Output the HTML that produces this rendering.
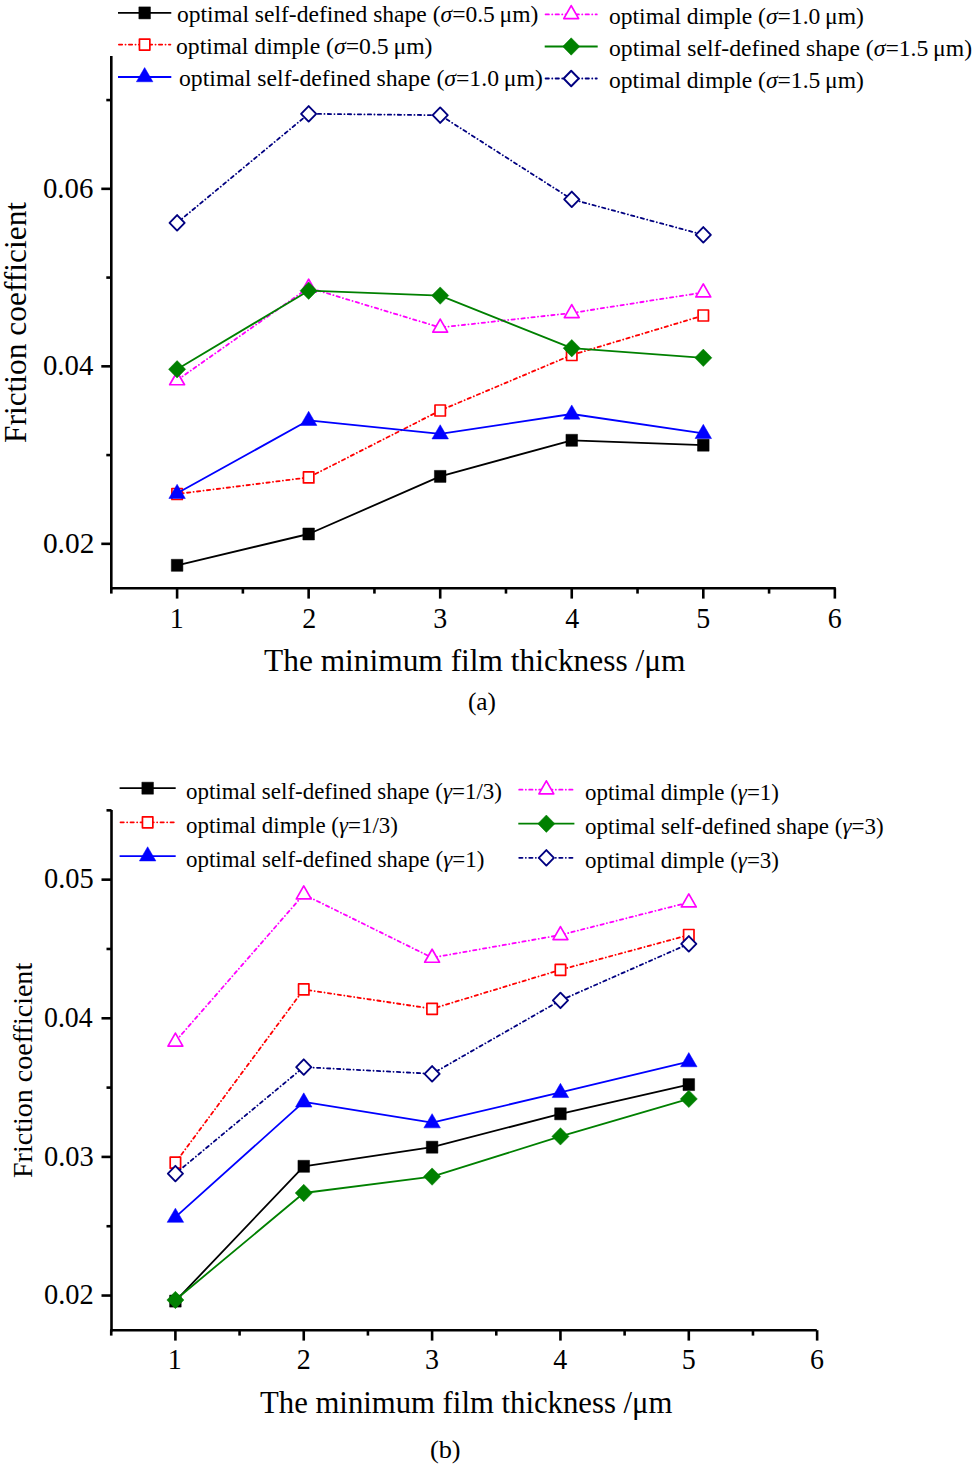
<!DOCTYPE html>
<html><head><meta charset="utf-8"><title>Friction coefficient charts</title>
<style>
html,body{margin:0;padding:0;background:#fff;}
body{width:973px;height:1466px;overflow:hidden;}
svg{display:block;font-family:"Liberation Serif", serif;}
text{fill:#000;}
</style></head><body>
<svg width="973" height="1466" viewBox="0 0 973 1466">
<line x1="111.3" y1="56.0" x2="111.3" y2="589.5" stroke="#000" stroke-width="2.6"/>
<line x1="110.0" y1="588.2" x2="835.8" y2="588.2" stroke="#000" stroke-width="2.6"/>
<line x1="101.3" y1="543.83" x2="111.3" y2="543.83" stroke="#000" stroke-width="2.6"/>
<line x1="101.3" y1="366.33" x2="111.3" y2="366.33" stroke="#000" stroke-width="2.6"/>
<line x1="101.3" y1="188.83" x2="111.3" y2="188.83" stroke="#000" stroke-width="2.6"/>
<line x1="106.3" y1="455.08" x2="111.3" y2="455.08" stroke="#000" stroke-width="2.6"/>
<line x1="106.3" y1="277.57" x2="111.3" y2="277.57" stroke="#000" stroke-width="2.6"/>
<line x1="106.3" y1="100.07" x2="111.3" y2="100.07" stroke="#000" stroke-width="2.6"/>
<line x1="111.32" y1="588.2" x2="111.32" y2="593.6" stroke="#000" stroke-width="2.6"/>
<line x1="177.10" y1="588.2" x2="177.10" y2="598.6" stroke="#000" stroke-width="2.6"/>
<line x1="242.88" y1="588.2" x2="242.88" y2="593.6" stroke="#000" stroke-width="2.6"/>
<line x1="308.65" y1="588.2" x2="308.65" y2="598.6" stroke="#000" stroke-width="2.6"/>
<line x1="374.43" y1="588.2" x2="374.43" y2="593.6" stroke="#000" stroke-width="2.6"/>
<line x1="440.20" y1="588.2" x2="440.20" y2="598.6" stroke="#000" stroke-width="2.6"/>
<line x1="505.98" y1="588.2" x2="505.98" y2="593.6" stroke="#000" stroke-width="2.6"/>
<line x1="571.75" y1="588.2" x2="571.75" y2="598.6" stroke="#000" stroke-width="2.6"/>
<line x1="637.53" y1="588.2" x2="637.53" y2="593.6" stroke="#000" stroke-width="2.6"/>
<line x1="703.30" y1="588.2" x2="703.30" y2="598.6" stroke="#000" stroke-width="2.6"/>
<line x1="769.08" y1="588.2" x2="769.08" y2="593.6" stroke="#000" stroke-width="2.6"/>
<line x1="834.85" y1="588.2" x2="834.85" y2="598.6" stroke="#000" stroke-width="2.6"/>
<polyline points="177.10,565.30 308.65,534.00 440.20,476.40 571.75,440.30 703.30,445.20" fill="none" stroke="#000000" stroke-width="1.8" stroke-linejoin="round"/>
<rect x="171.30" y="559.30" width="11.60" height="12.00" fill="#000000" stroke="#000000" stroke-width="0.5" stroke-linejoin="round"/><rect x="302.85" y="528.00" width="11.60" height="12.00" fill="#000000" stroke="#000000" stroke-width="0.5" stroke-linejoin="round"/><rect x="434.40" y="470.40" width="11.60" height="12.00" fill="#000000" stroke="#000000" stroke-width="0.5" stroke-linejoin="round"/><rect x="565.95" y="434.30" width="11.60" height="12.00" fill="#000000" stroke="#000000" stroke-width="0.5" stroke-linejoin="round"/><rect x="697.50" y="439.20" width="11.60" height="12.00" fill="#000000" stroke="#000000" stroke-width="0.5" stroke-linejoin="round"/>
<polyline points="177.10,494.00 308.65,477.40 440.20,410.50 571.75,355.00 703.30,315.50" fill="none" stroke="#ff0000" stroke-width="1.8" stroke-dasharray="3.3 3.3 0.1 3.3" stroke-linecap="round" stroke-linejoin="round"/>
<rect x="171.90" y="488.50" width="10.40" height="11.00" fill="#fff" stroke="#ff0000" stroke-width="1.7" stroke-linejoin="round"/><rect x="303.45" y="471.90" width="10.40" height="11.00" fill="#fff" stroke="#ff0000" stroke-width="1.7" stroke-linejoin="round"/><rect x="435.00" y="405.00" width="10.40" height="11.00" fill="#fff" stroke="#ff0000" stroke-width="1.7" stroke-linejoin="round"/><rect x="566.55" y="349.50" width="10.40" height="11.00" fill="#fff" stroke="#ff0000" stroke-width="1.7" stroke-linejoin="round"/><rect x="698.10" y="310.00" width="10.40" height="11.00" fill="#fff" stroke="#ff0000" stroke-width="1.7" stroke-linejoin="round"/>
<polyline points="177.10,493.30 308.65,420.30 440.20,433.80 571.75,414.00 703.30,433.40" fill="none" stroke="#0000ff" stroke-width="1.8" stroke-linejoin="round"/>
<path d="M177.10,484.25 L185.35,498.45 L168.85,498.45 Z" fill="#0000ff" stroke="#0000ff" stroke-width="0.5" stroke-linejoin="round"/><path d="M308.65,411.25 L316.90,425.45 L300.40,425.45 Z" fill="#0000ff" stroke="#0000ff" stroke-width="0.5" stroke-linejoin="round"/><path d="M440.20,424.75 L448.45,438.95 L431.95,438.95 Z" fill="#0000ff" stroke="#0000ff" stroke-width="0.5" stroke-linejoin="round"/><path d="M571.75,404.95 L580.00,419.15 L563.50,419.15 Z" fill="#0000ff" stroke="#0000ff" stroke-width="0.5" stroke-linejoin="round"/><path d="M703.30,424.35 L711.55,438.55 L695.05,438.55 Z" fill="#0000ff" stroke="#0000ff" stroke-width="0.5" stroke-linejoin="round"/>
<polyline points="177.10,380.20 308.65,287.70 440.20,327.50 571.75,313.00 703.30,292.40" fill="none" stroke="#ff00ff" stroke-width="1.8" stroke-dasharray="3.3 3.3 0.1 3.3" stroke-linecap="round" stroke-linejoin="round"/>
<path d="M177.10,371.75 L184.53,384.75 L169.67,384.75 Z" fill="#fff" stroke="#ff00ff" stroke-width="1.7" stroke-linejoin="round"/><path d="M308.65,279.25 L316.08,292.25 L301.22,292.25 Z" fill="#fff" stroke="#ff00ff" stroke-width="1.7" stroke-linejoin="round"/><path d="M440.20,319.05 L447.63,332.05 L432.77,332.05 Z" fill="#fff" stroke="#ff00ff" stroke-width="1.7" stroke-linejoin="round"/><path d="M571.75,304.55 L579.18,317.55 L564.32,317.55 Z" fill="#fff" stroke="#ff00ff" stroke-width="1.7" stroke-linejoin="round"/><path d="M703.30,283.95 L710.73,296.95 L695.87,296.95 Z" fill="#fff" stroke="#ff00ff" stroke-width="1.7" stroke-linejoin="round"/>
<polyline points="177.10,369.30 308.65,290.70 440.20,295.60 571.75,348.20 703.30,357.80" fill="none" stroke="#008000" stroke-width="1.8" stroke-linejoin="round"/>
<path d="M177.10,360.60 L185.65,369.30 L177.10,378.00 L168.55,369.30 Z" fill="#008000" stroke="#008000" stroke-width="0.5" stroke-linejoin="round"/><path d="M308.65,282.00 L317.20,290.70 L308.65,299.40 L300.10,290.70 Z" fill="#008000" stroke="#008000" stroke-width="0.5" stroke-linejoin="round"/><path d="M440.20,286.90 L448.75,295.60 L440.20,304.30 L431.65,295.60 Z" fill="#008000" stroke="#008000" stroke-width="0.5" stroke-linejoin="round"/><path d="M571.75,339.50 L580.30,348.20 L571.75,356.90 L563.20,348.20 Z" fill="#008000" stroke="#008000" stroke-width="0.5" stroke-linejoin="round"/><path d="M703.30,349.10 L711.85,357.80 L703.30,366.50 L694.75,357.80 Z" fill="#008000" stroke="#008000" stroke-width="0.5" stroke-linejoin="round"/>
<polyline points="177.10,222.80 308.65,113.80 440.20,115.20 571.75,199.30 703.30,234.80" fill="none" stroke="#000080" stroke-width="1.8" stroke-dasharray="3.3 3.3 0.1 3.3" stroke-linecap="round" stroke-linejoin="round"/>
<path d="M177.10,215.04 L184.66,222.80 L177.10,230.56 L169.54,222.80 Z" fill="#fff" stroke="#000080" stroke-width="1.9" stroke-linejoin="round"/><path d="M308.65,106.04 L316.21,113.80 L308.65,121.56 L301.09,113.80 Z" fill="#fff" stroke="#000080" stroke-width="1.9" stroke-linejoin="round"/><path d="M440.20,107.44 L447.76,115.20 L440.20,122.96 L432.64,115.20 Z" fill="#fff" stroke="#000080" stroke-width="1.9" stroke-linejoin="round"/><path d="M571.75,191.54 L579.31,199.30 L571.75,207.06 L564.19,199.30 Z" fill="#fff" stroke="#000080" stroke-width="1.9" stroke-linejoin="round"/><path d="M703.30,227.04 L710.86,234.80 L703.30,242.56 L695.74,234.80 Z" fill="#fff" stroke="#000080" stroke-width="1.9" stroke-linejoin="round"/>
<line x1="118" y1="12.9" x2="171.3" y2="12.9" stroke="#000000" stroke-width="1.8"/><rect x="138.85" y="6.90" width="11.60" height="12.00" fill="#000000" stroke="#000000" stroke-width="0.5" stroke-linejoin="round"/>
<line x1="118.9" y1="44.6" x2="170.4" y2="44.6" stroke="#ff0000" stroke-width="1.8" stroke-dasharray="3.3 3.3 0.1 3.3" stroke-linecap="round"/><rect x="139.45" y="39.10" width="10.40" height="11.00" fill="#fff" stroke="#ff0000" stroke-width="1.7" stroke-linejoin="round"/>
<line x1="118" y1="77.0" x2="171.3" y2="77.0" stroke="#0000ff" stroke-width="1.8"/><path d="M144.65,67.55 L152.90,81.75 L136.40,81.75 Z" fill="#0000ff" stroke="#0000ff" stroke-width="0.5" stroke-linejoin="round"/>
<line x1="545.6" y1="14.4" x2="596.8000000000001" y2="14.4" stroke="#ff00ff" stroke-width="1.8" stroke-dasharray="3.3 3.3 0.1 3.3" stroke-linecap="round"/><path d="M571.20,5.55 L578.63,18.55 L563.77,18.55 Z" fill="#fff" stroke="#ff00ff" stroke-width="1.7" stroke-linejoin="round"/>
<line x1="544.7" y1="46.5" x2="597.7" y2="46.5" stroke="#008000" stroke-width="1.8"/><path d="M571.20,37.80 L579.75,46.50 L571.20,55.20 L562.65,46.50 Z" fill="#008000" stroke="#008000" stroke-width="0.5" stroke-linejoin="round"/>
<line x1="545.6" y1="78.5" x2="596.8000000000001" y2="78.5" stroke="#000080" stroke-width="1.8" stroke-dasharray="3.3 3.3 0.1 3.3" stroke-linecap="round"/><path d="M571.20,70.74 L578.76,78.50 L571.20,86.26 L563.64,78.50 Z" fill="#fff" stroke="#000080" stroke-width="1.9" stroke-linejoin="round"/>
<line x1="111.5" y1="810.0" x2="111.5" y2="1331.5" stroke="#000" stroke-width="2.6"/>
<line x1="110.2" y1="1330.2" x2="816.8" y2="1330.2" stroke="#000" stroke-width="2.6"/>
<line x1="101.5" y1="1295.54" x2="111.5" y2="1295.54" stroke="#000" stroke-width="2.6"/>
<line x1="101.5" y1="1156.91" x2="111.5" y2="1156.91" stroke="#000" stroke-width="2.6"/>
<line x1="101.5" y1="1018.28" x2="111.5" y2="1018.28" stroke="#000" stroke-width="2.6"/>
<line x1="101.5" y1="879.65" x2="111.5" y2="879.65" stroke="#000" stroke-width="2.6"/>
<line x1="106.5" y1="1226.23" x2="111.5" y2="1226.23" stroke="#000" stroke-width="2.6"/>
<line x1="106.5" y1="1087.60" x2="111.5" y2="1087.60" stroke="#000" stroke-width="2.6"/>
<line x1="106.5" y1="948.97" x2="111.5" y2="948.97" stroke="#000" stroke-width="2.6"/>
<line x1="106.5" y1="810.34" x2="111.5" y2="810.34" stroke="#000" stroke-width="2.6"/>
<line x1="111.23" y1="1330.2" x2="111.23" y2="1335.6000000000001" stroke="#000" stroke-width="2.6"/>
<line x1="175.40" y1="1330.2" x2="175.40" y2="1340.6000000000001" stroke="#000" stroke-width="2.6"/>
<line x1="239.57" y1="1330.2" x2="239.57" y2="1335.6000000000001" stroke="#000" stroke-width="2.6"/>
<line x1="303.75" y1="1330.2" x2="303.75" y2="1340.6000000000001" stroke="#000" stroke-width="2.6"/>
<line x1="367.92" y1="1330.2" x2="367.92" y2="1335.6000000000001" stroke="#000" stroke-width="2.6"/>
<line x1="432.10" y1="1330.2" x2="432.10" y2="1340.6000000000001" stroke="#000" stroke-width="2.6"/>
<line x1="496.27" y1="1330.2" x2="496.27" y2="1335.6000000000001" stroke="#000" stroke-width="2.6"/>
<line x1="560.45" y1="1330.2" x2="560.45" y2="1340.6000000000001" stroke="#000" stroke-width="2.6"/>
<line x1="624.62" y1="1330.2" x2="624.62" y2="1335.6000000000001" stroke="#000" stroke-width="2.6"/>
<line x1="688.80" y1="1330.2" x2="688.80" y2="1340.6000000000001" stroke="#000" stroke-width="2.6"/>
<line x1="752.97" y1="1330.2" x2="752.97" y2="1335.6000000000001" stroke="#000" stroke-width="2.6"/>
<line x1="817.15" y1="1330.2" x2="817.15" y2="1340.6000000000001" stroke="#000" stroke-width="2.6"/>
<polyline points="175.40,1301.10 303.75,1166.30 432.10,1147.20 560.45,1113.80 688.80,1084.60" fill="none" stroke="#000000" stroke-width="1.8" stroke-linejoin="round"/>
<rect x="169.60" y="1295.10" width="11.60" height="12.00" fill="#000000" stroke="#000000" stroke-width="0.5" stroke-linejoin="round"/><rect x="297.95" y="1160.30" width="11.60" height="12.00" fill="#000000" stroke="#000000" stroke-width="0.5" stroke-linejoin="round"/><rect x="426.30" y="1141.20" width="11.60" height="12.00" fill="#000000" stroke="#000000" stroke-width="0.5" stroke-linejoin="round"/><rect x="554.65" y="1107.80" width="11.60" height="12.00" fill="#000000" stroke="#000000" stroke-width="0.5" stroke-linejoin="round"/><rect x="683.00" y="1078.60" width="11.60" height="12.00" fill="#000000" stroke="#000000" stroke-width="0.5" stroke-linejoin="round"/>
<polyline points="175.40,1162.70 303.75,989.40 432.10,1008.80 560.45,969.80 688.80,935.00" fill="none" stroke="#ff0000" stroke-width="1.8" stroke-dasharray="3.3 3.3 0.1 3.3" stroke-linecap="round" stroke-linejoin="round"/>
<rect x="170.20" y="1157.20" width="10.40" height="11.00" fill="#fff" stroke="#ff0000" stroke-width="1.7" stroke-linejoin="round"/><rect x="298.55" y="983.90" width="10.40" height="11.00" fill="#fff" stroke="#ff0000" stroke-width="1.7" stroke-linejoin="round"/><rect x="426.90" y="1003.30" width="10.40" height="11.00" fill="#fff" stroke="#ff0000" stroke-width="1.7" stroke-linejoin="round"/><rect x="555.25" y="964.30" width="10.40" height="11.00" fill="#fff" stroke="#ff0000" stroke-width="1.7" stroke-linejoin="round"/><rect x="683.60" y="929.50" width="10.40" height="11.00" fill="#fff" stroke="#ff0000" stroke-width="1.7" stroke-linejoin="round"/>
<polyline points="175.40,1217.20 303.75,1101.90 432.10,1122.70 560.45,1092.40 688.80,1061.60" fill="none" stroke="#0000ff" stroke-width="1.8" stroke-linejoin="round"/>
<path d="M175.40,1208.15 L183.65,1222.35 L167.15,1222.35 Z" fill="#0000ff" stroke="#0000ff" stroke-width="0.5" stroke-linejoin="round"/><path d="M303.75,1092.85 L312.00,1107.05 L295.50,1107.05 Z" fill="#0000ff" stroke="#0000ff" stroke-width="0.5" stroke-linejoin="round"/><path d="M432.10,1113.65 L440.35,1127.85 L423.85,1127.85 Z" fill="#0000ff" stroke="#0000ff" stroke-width="0.5" stroke-linejoin="round"/><path d="M560.45,1083.35 L568.70,1097.55 L552.20,1097.55 Z" fill="#0000ff" stroke="#0000ff" stroke-width="0.5" stroke-linejoin="round"/><path d="M688.80,1052.55 L697.05,1066.75 L680.55,1066.75 Z" fill="#0000ff" stroke="#0000ff" stroke-width="0.5" stroke-linejoin="round"/>
<polyline points="175.40,1041.50 303.75,894.40 432.10,957.70 560.45,935.00 688.80,902.40" fill="none" stroke="#ff00ff" stroke-width="1.8" stroke-dasharray="3.3 3.3 0.1 3.3" stroke-linecap="round" stroke-linejoin="round"/>
<path d="M175.40,1033.05 L182.83,1046.05 L167.97,1046.05 Z" fill="#fff" stroke="#ff00ff" stroke-width="1.7" stroke-linejoin="round"/><path d="M303.75,885.95 L311.18,898.95 L296.32,898.95 Z" fill="#fff" stroke="#ff00ff" stroke-width="1.7" stroke-linejoin="round"/><path d="M432.10,949.25 L439.53,962.25 L424.67,962.25 Z" fill="#fff" stroke="#ff00ff" stroke-width="1.7" stroke-linejoin="round"/><path d="M560.45,926.55 L567.88,939.55 L553.02,939.55 Z" fill="#fff" stroke="#ff00ff" stroke-width="1.7" stroke-linejoin="round"/><path d="M688.80,893.95 L696.23,906.95 L681.37,906.95 Z" fill="#fff" stroke="#ff00ff" stroke-width="1.7" stroke-linejoin="round"/>
<polyline points="175.40,1300.00 303.75,1193.00 432.10,1176.60 560.45,1136.40 688.80,1098.90" fill="none" stroke="#008000" stroke-width="1.8" stroke-linejoin="round"/>
<path d="M175.40,1291.30 L183.95,1300.00 L175.40,1308.70 L166.85,1300.00 Z" fill="#008000" stroke="#008000" stroke-width="0.5" stroke-linejoin="round"/><path d="M303.75,1184.30 L312.30,1193.00 L303.75,1201.70 L295.20,1193.00 Z" fill="#008000" stroke="#008000" stroke-width="0.5" stroke-linejoin="round"/><path d="M432.10,1167.90 L440.65,1176.60 L432.10,1185.30 L423.55,1176.60 Z" fill="#008000" stroke="#008000" stroke-width="0.5" stroke-linejoin="round"/><path d="M560.45,1127.70 L569.00,1136.40 L560.45,1145.10 L551.90,1136.40 Z" fill="#008000" stroke="#008000" stroke-width="0.5" stroke-linejoin="round"/><path d="M688.80,1090.20 L697.35,1098.90 L688.80,1107.60 L680.25,1098.90 Z" fill="#008000" stroke="#008000" stroke-width="0.5" stroke-linejoin="round"/>
<polyline points="175.40,1173.60 303.75,1067.10 432.10,1073.80 560.45,1000.40 688.80,943.80" fill="none" stroke="#000080" stroke-width="1.8" stroke-dasharray="3.3 3.3 0.1 3.3" stroke-linecap="round" stroke-linejoin="round"/>
<path d="M175.40,1165.84 L182.96,1173.60 L175.40,1181.36 L167.84,1173.60 Z" fill="#fff" stroke="#000080" stroke-width="1.9" stroke-linejoin="round"/><path d="M303.75,1059.34 L311.31,1067.10 L303.75,1074.86 L296.19,1067.10 Z" fill="#fff" stroke="#000080" stroke-width="1.9" stroke-linejoin="round"/><path d="M432.10,1066.04 L439.66,1073.80 L432.10,1081.56 L424.54,1073.80 Z" fill="#fff" stroke="#000080" stroke-width="1.9" stroke-linejoin="round"/><path d="M560.45,992.64 L568.01,1000.40 L560.45,1008.16 L552.89,1000.40 Z" fill="#fff" stroke="#000080" stroke-width="1.9" stroke-linejoin="round"/><path d="M688.80,936.04 L696.36,943.80 L688.80,951.56 L681.24,943.80 Z" fill="#fff" stroke="#000080" stroke-width="1.9" stroke-linejoin="round"/>
<line x1="119.6" y1="788.2" x2="175.7" y2="788.2" stroke="#000000" stroke-width="1.8"/><rect x="141.85" y="782.20" width="11.60" height="12.00" fill="#000000" stroke="#000000" stroke-width="0.5" stroke-linejoin="round"/>
<line x1="120.5" y1="822.3" x2="174.79999999999998" y2="822.3" stroke="#ff0000" stroke-width="1.8" stroke-dasharray="3.3 3.3 0.1 3.3" stroke-linecap="round"/><rect x="142.45" y="816.80" width="10.40" height="11.00" fill="#fff" stroke="#ff0000" stroke-width="1.7" stroke-linejoin="round"/>
<line x1="119.6" y1="856.2" x2="175.7" y2="856.2" stroke="#0000ff" stroke-width="1.8"/><path d="M147.65,846.75 L155.90,860.95 L139.40,860.95 Z" fill="#0000ff" stroke="#0000ff" stroke-width="0.5" stroke-linejoin="round"/>
<line x1="519.1999999999999" y1="789.7" x2="573.5" y2="789.7" stroke="#ff00ff" stroke-width="1.8" stroke-dasharray="3.3 3.3 0.1 3.3" stroke-linecap="round"/><path d="M546.35,780.85 L553.78,793.85 L538.92,793.85 Z" fill="#fff" stroke="#ff00ff" stroke-width="1.7" stroke-linejoin="round"/>
<line x1="518.3" y1="823.7" x2="574.4" y2="823.7" stroke="#008000" stroke-width="1.8"/><path d="M546.35,815.00 L554.90,823.70 L546.35,832.40 L537.80,823.70 Z" fill="#008000" stroke="#008000" stroke-width="0.5" stroke-linejoin="round"/>
<line x1="519.1999999999999" y1="857.8" x2="573.5" y2="857.8" stroke="#000080" stroke-width="1.8" stroke-dasharray="3.3 3.3 0.1 3.3" stroke-linecap="round"/><path d="M546.35,850.04 L553.91,857.80 L546.35,865.56 L538.79,857.80 Z" fill="#fff" stroke="#000080" stroke-width="1.9" stroke-linejoin="round"/>
<text id="la1" x="177.01" y="21.90" font-size="23.8" textLength="361.38" lengthAdjust="spacingAndGlyphs">optimal self-defined shape (<tspan font-style="italic">σ</tspan>=0.5 μm)</text>
<text id="la2" x="176.00" y="54.00" font-size="23.8" textLength="256.50" lengthAdjust="spacingAndGlyphs">optimal dimple (<tspan font-style="italic">σ</tspan>=0.5 μm)</text>
<text id="la3" x="179.00" y="85.80" font-size="23.8" textLength="363.78" lengthAdjust="spacingAndGlyphs">optimal self-defined shape (<tspan font-style="italic">σ</tspan>=1.0 μm)</text>
<text id="ra1" x="609.00" y="24.20" font-size="23.8" textLength="254.79" lengthAdjust="spacingAndGlyphs">optimal dimple (<tspan font-style="italic">σ</tspan>=1.0 μm)</text>
<text id="ra2" x="609.00" y="56.20" font-size="23.8" textLength="363.06" lengthAdjust="spacingAndGlyphs">optimal self-defined shape (<tspan font-style="italic">σ</tspan>=1.5 μm)</text>
<text id="ra3" x="609.00" y="88.20" font-size="23.8" textLength="254.79" lengthAdjust="spacingAndGlyphs">optimal dimple (<tspan font-style="italic">σ</tspan>=1.5 μm)</text>
<text id="lb1" x="186.00" y="798.80" font-size="23.0" textLength="315.90" lengthAdjust="spacingAndGlyphs">optimal self-defined shape (<tspan font-style="italic">γ</tspan>=1/3)</text>
<text id="lb2" x="186.00" y="832.80" font-size="23.0" textLength="211.95" lengthAdjust="spacingAndGlyphs">optimal dimple (<tspan font-style="italic">γ</tspan>=1/3)</text>
<text id="lb3" x="186.00" y="867.00" font-size="23.0" textLength="298.31" lengthAdjust="spacingAndGlyphs">optimal self-defined shape (<tspan font-style="italic">γ</tspan>=1)</text>
<text id="rb1" x="585.00" y="800.00" font-size="23.0" textLength="193.96" lengthAdjust="spacingAndGlyphs">optimal dimple (<tspan font-style="italic">γ</tspan>=1)</text>
<text id="rb2" x="585.00" y="833.90" font-size="23.0" textLength="298.61" lengthAdjust="spacingAndGlyphs">optimal self-defined shape (<tspan font-style="italic">γ</tspan>=3)</text>
<text id="rb3" x="585.00" y="868.00" font-size="23.0" textLength="193.96" lengthAdjust="spacingAndGlyphs">optimal dimple (<tspan font-style="italic">γ</tspan>=3)</text>
<text id="ya0.02" transform="translate(42.93,552.83) scale(1,1.065)" font-size="28" textLength="51.43" lengthAdjust="spacingAndGlyphs">0.02</text>
<text id="ya0.04" transform="translate(42.96,375.33) scale(1,1.065)" font-size="28" textLength="50.36" lengthAdjust="spacingAndGlyphs">0.04</text>
<text id="ya0.06" transform="translate(42.97,197.83) scale(1,1.065)" font-size="28" textLength="50.39" lengthAdjust="spacingAndGlyphs">0.06</text>
<text id="yb0.02" transform="translate(43.96,1304.34) scale(1,1.065)" font-size="28" textLength="49.79" lengthAdjust="spacingAndGlyphs">0.02</text>
<text id="yb0.03" transform="translate(43.95,1165.71) scale(1,1.065)" font-size="28" textLength="49.80" lengthAdjust="spacingAndGlyphs">0.03</text>
<text id="yb0.04" transform="translate(43.98,1027.08) scale(1,1.065)" font-size="28" textLength="48.72" lengthAdjust="spacingAndGlyphs">0.04</text>
<text id="yb0.05" transform="translate(43.96,888.45) scale(1,1.065)" font-size="28" textLength="49.77" lengthAdjust="spacingAndGlyphs">0.05</text>
<text id="xa1" transform="translate(169.80,628.00) scale(1,1.065)" font-size="28">1</text>
<text id="xa2" transform="translate(302.30,628.00) scale(1,1.065)" font-size="28">2</text>
<text id="xa3" transform="translate(433.30,628.00) scale(1,1.065)" font-size="28">3</text>
<text id="xa4" transform="translate(565.30,628.00) scale(1,1.065)" font-size="28">4</text>
<text id="xa5" transform="translate(696.30,628.00) scale(1,1.065)" font-size="28">5</text>
<text id="xa6" transform="translate(827.80,628.00) scale(1,1.065)" font-size="28">6</text>
<text id="xb1" transform="translate(167.70,1369.00) scale(1,1.05)" font-size="28">1</text>
<text id="xb2" transform="translate(296.85,1369.00) scale(1,1.05)" font-size="28">2</text>
<text id="xb3" transform="translate(425.00,1369.00) scale(1,1.05)" font-size="28">3</text>
<text id="xb4" transform="translate(553.15,1369.00) scale(1,1.05)" font-size="28">4</text>
<text id="xb5" transform="translate(681.80,1369.00) scale(1,1.05)" font-size="28">5</text>
<text id="xb6" transform="translate(809.95,1369.00) scale(1,1.05)" font-size="28">6</text>
<text id="ta" x="264.00" y="671.30" font-size="31.3" textLength="421.53" lengthAdjust="spacingAndGlyphs">The minimum film thickness /μm</text>
<text id="tb" x="260.01" y="1413.10" font-size="31.0" textLength="412.43" lengthAdjust="spacingAndGlyphs">The minimum film thickness /μm</text>
<text id="capa" x="467.91" y="709.60" font-size="24.5" textLength="28.06" lengthAdjust="spacingAndGlyphs">(a)</text>
<text id="capb" x="429.92" y="1458.00" font-size="24.5" textLength="30.74" lengthAdjust="spacingAndGlyphs">(b)</text>
<text id="fa" transform="translate(26.00,443.00) rotate(-90)" font-size="31.4" textLength="241.09" lengthAdjust="spacingAndGlyphs">Friction coefficient</text>
<text id="fb" transform="translate(32.40,1178.00) rotate(-90)" font-size="28.0" textLength="215.19" lengthAdjust="spacingAndGlyphs">Friction coefficient</text>
</svg>
</body></html>
